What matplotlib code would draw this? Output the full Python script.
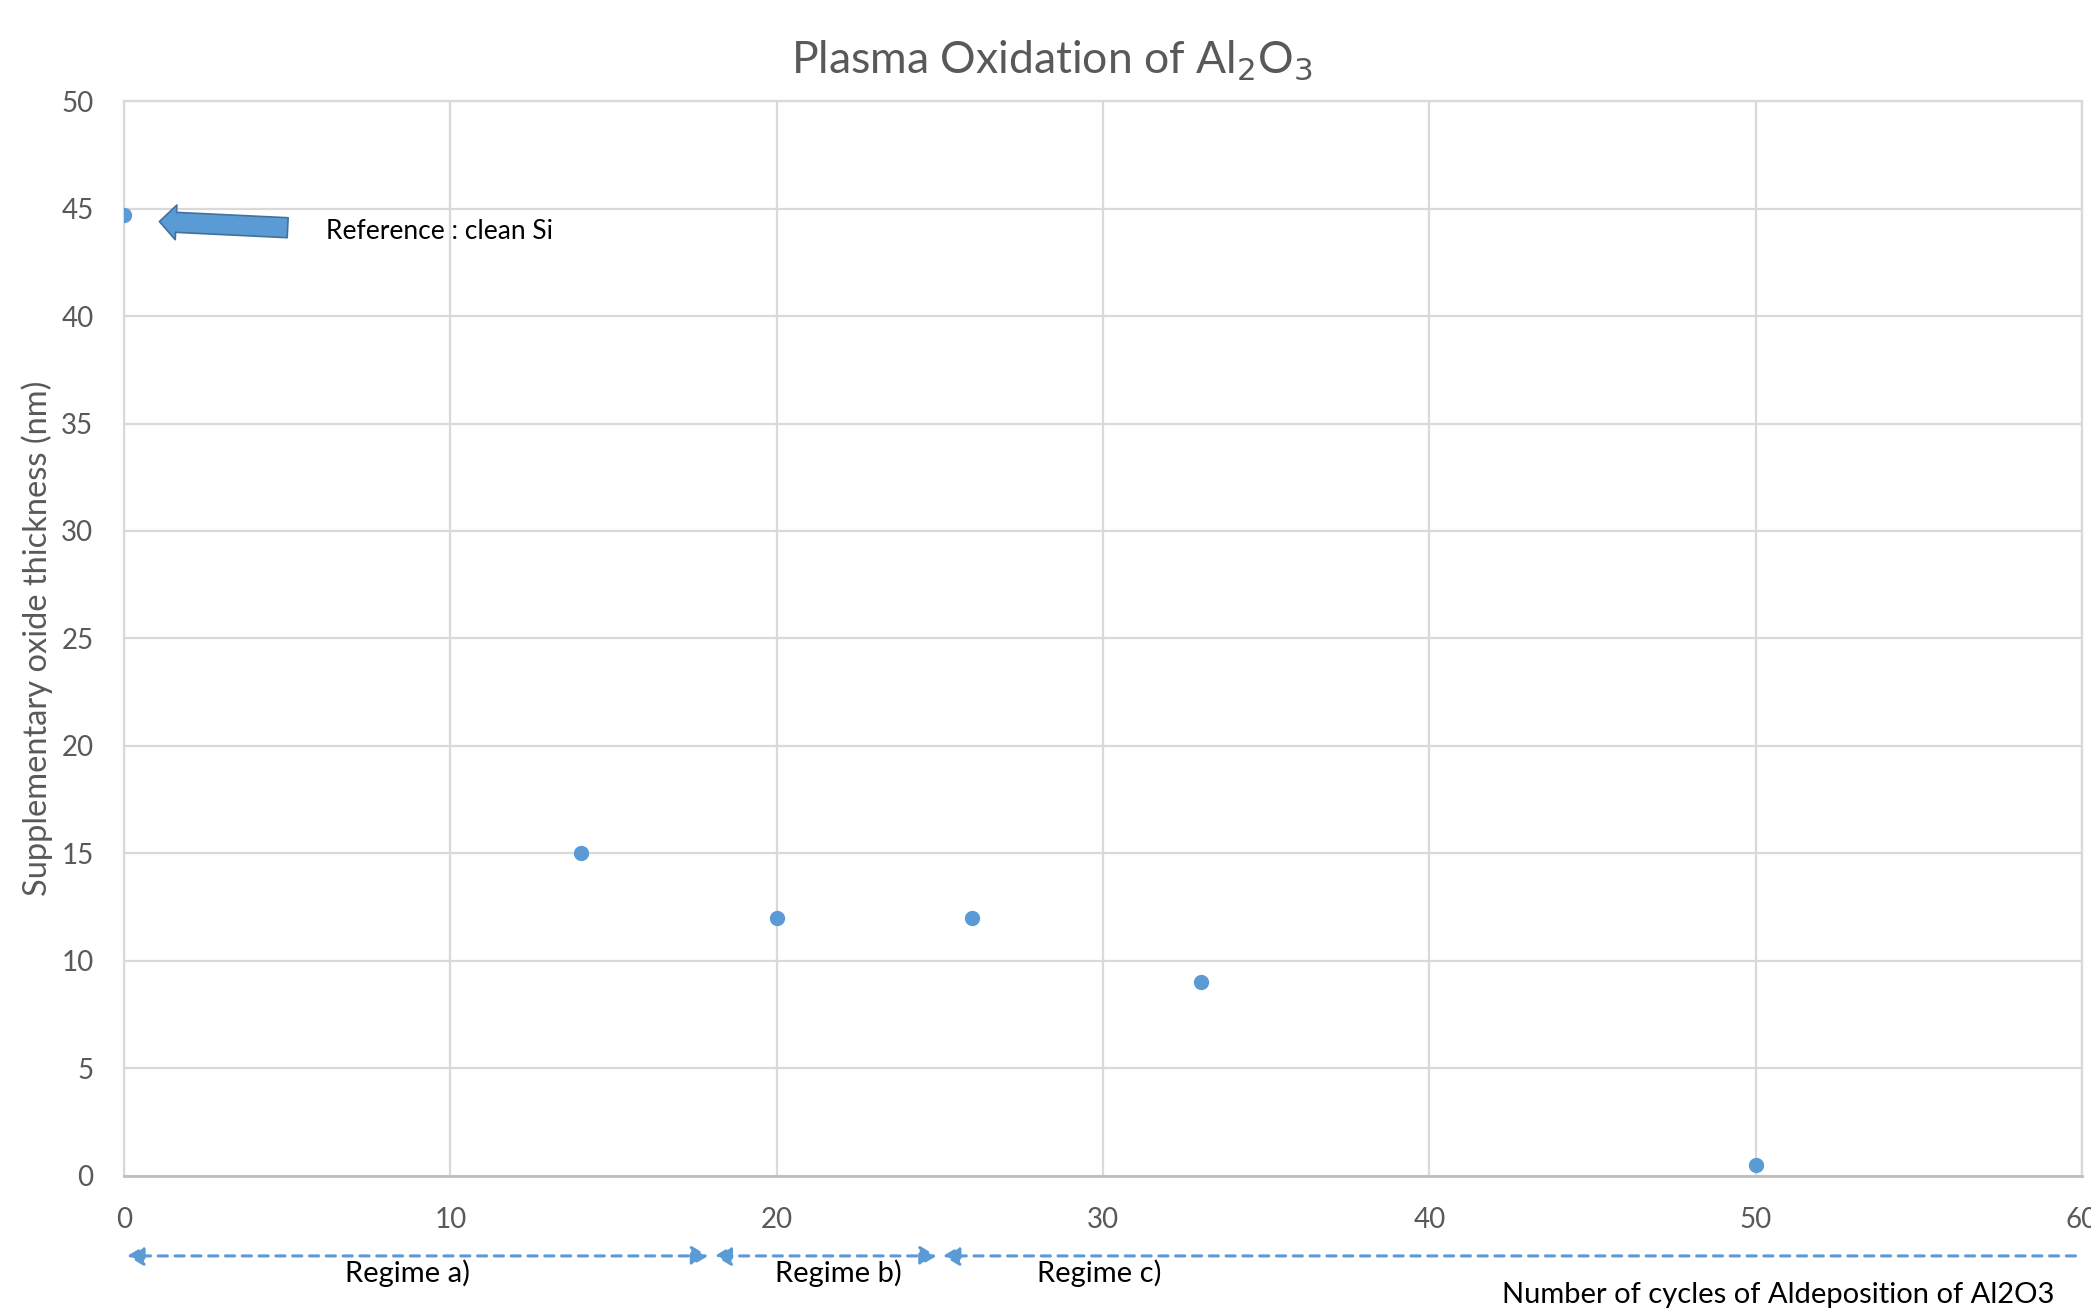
import matplotlib
matplotlib.use('Agg')
import matplotlib.pyplot as plt

# Data
cycles = [0, 14, 20, 26, 33, 50]
thickness = [44.7, 15, 12, 12, 9, 0.5]

# Regime boundaries (in cycles) and labels
regime_bounds = [(0.1, 17.9), (18.1, 24.9), (25.1, 59.8)]
regime_labels = ['Regime a)', 'Regime b)', 'Regime c)']
regime_label_x = [8.7, 21.9, 29.9]

blue = '#5b9bd5'
grey_text = '#595959'
grid_col = '#d9d9d9'

plt.rcParams['font.family'] = ['Lato', 'DejaVu Sans']

fig = plt.figure(figsize=(20.91, 13.12), dpi=100)
ax = fig.add_axes([0.0593, 0.1037, 0.9364, 0.8193])

# Scatter points
ax.plot(cycles, thickness, 'o', color=blue, markersize=10, zorder=3)

ax.set_xlim(0, 60)
ax.set_ylim(0, 50)
ax.set_xticks(range(0, 61, 10))
ax.set_yticks(range(0, 51, 5))
ax.grid(True, color=grid_col, linewidth=1.6)
ax.set_axisbelow(True)
ax.tick_params(length=0, labelsize=20, labelcolor=grey_text)
ax.tick_params(axis='x', pad=22)
ax.tick_params(axis='y', pad=22)
for side in ['top', 'right', 'left']:
    ax.spines[side].set_color(grid_col)
    ax.spines[side].set_linewidth(1.6)
ax.spines['bottom'].set_color('#bfbfbf')
ax.spines['bottom'].set_linewidth(2)

# Title with subscripts
fig.text(0.503, 0.954, r'Plasma Oxidation of Al$_2$O$_3$', ha='center', va='center',
         fontsize=32, color=grey_text)

# Y axis label
ax.set_ylabel('Supplementary oxide thickness (nm)', fontsize=23.5, color=grey_text, labelpad=6)

# Block arrow pointing to the reference point
ax.annotate('', xy=(1.0, 44.4), xytext=(5.1, 44.1),
            arrowprops=dict(arrowstyle='simple,head_length=0.6,head_width=1.25,tail_width=0.72',
                            mutation_scale=20, fc=blue, ec='#41719c', lw=1.2))
ax.text(6.2, 43.95, 'Reference : clean Si', fontsize=19, color='black', va='center')

# Dashed regime arrows below the x axis
line_y = -0.0744
text_y = -0.0902
for i, (x0, x1) in enumerate(regime_bounds):
    style = '<|-|>' if i < 2 else '-|>'
    ax.annotate('', xy=(x0, line_y), xytext=(x1, line_y),
                xycoords=('data', 'axes fraction'), textcoords=('data', 'axes fraction'),
                arrowprops=dict(arrowstyle=style + ',head_length=0.5,head_width=0.3',
                                color=blue, lw=2.2, linestyle=(0, (3, 2.5)),
                                shrinkA=0, shrinkB=0, mutation_scale=20),
                annotation_clip=False)
    ax.text(regime_label_x[i], text_y, regime_labels[i], transform=ax.get_xaxis_transform(),
            ha='center', va='center', fontsize=21, color='black')

# X axis label at bottom right
fig.text(0.8505, 0.003, 'Number of cycles of Aldeposition of Al2O3', ha='center', va='bottom',
         fontsize=21, color='black')

plt.savefig('out.png', dpi=100)
